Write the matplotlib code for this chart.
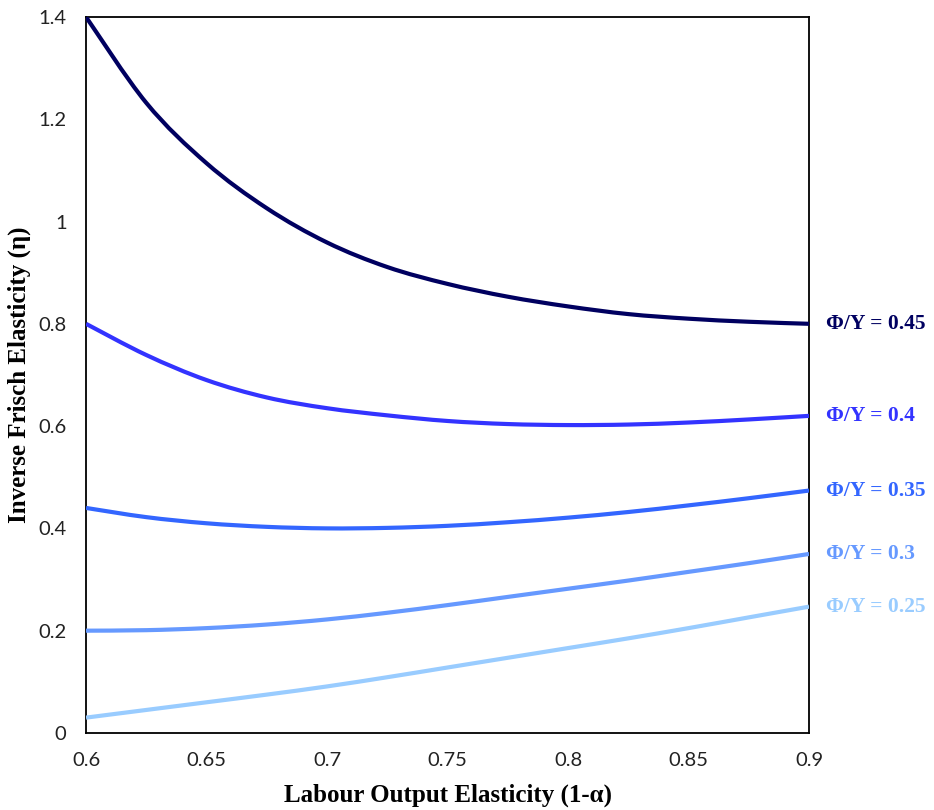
import numpy as np
import matplotlib
matplotlib.use("Agg")
from matplotlib import pyplot as plt
from matplotlib.path import Path
from matplotlib.patches import PathPatch


# labour output elasticity (1-alpha)
labour_share = [0.6, 0.625, 0.65, 0.675, 0.7, 0.725, 0.75, 0.775, 0.8, 0.825, 0.85, 0.875, 0.9]

# inverse Frisch elasticity for each fixed-cost share
eta_045 = [1.40, 1.232, 1.114, 1.026, 0.959, 0.911, 0.878, 0.853, 0.834, 0.819, 0.810, 0.804, 0.80]
eta_040 = [0.80, 0.739, 0.690, 0.656, 0.635, 0.621, 0.610, 0.604, 0.602, 0.603, 0.607, 0.613, 0.62]
eta_035 = [0.44, 0.422, 0.410, 0.403, 0.400, 0.401, 0.405, 0.412, 0.421, 0.432, 0.445, 0.459, 0.474]
eta_030 = [0.20, 0.201, 0.205, 0.212, 0.222, 0.235, 0.250, 0.266, 0.282, 0.298, 0.315, 0.332, 0.35]
eta_025 = [0.03, 0.045, 0.060, 0.075, 0.091, 0.109, 0.128, 0.147, 0.166, 0.185, 0.205, 0.226, 0.247]

labels = ["Φ/Y = 0.45", "Φ/Y = 0.4", "Φ/Y = 0.35", "Φ/Y = 0.3", "Φ/Y = 0.25"]
colors = ["#000060", "#3333ff", "#3366ff", "#6699ff", "#99ccff"]


def smooth_path(x, y):
    # catmull-rom through the points, handed to matplotlib as cubic beziers
    pts = np.column_stack([np.asarray(x, float), np.asarray(y, float)])
    verts = [pts[0]]
    codes = [Path.MOVETO]
    n = len(pts)
    for i in range(n - 1):
        p0 = pts[i - 1] if i > 0 else pts[i]
        p1 = pts[i]
        p2 = pts[i + 1]
        p3 = pts[i + 2] if i + 2 < n else pts[i + 1]
        c1 = p1 + (p2 - p0) / 6.0
        c2 = p2 - (p3 - p1) / 6.0
        verts += [c1, c2, p2]
        codes += [Path.CURVE4] * 3
    return Path(verts, codes)


def main():
    fig = plt.figure(figsize=(9.34, 8.1), dpi=100)
    ax = fig.add_axes([0.0921, 0.0951, 0.7741, 0.8840])

    series = [eta_045, eta_040, eta_035, eta_030, eta_025]
    for vals, col, lab in zip(series, colors, labels):
        patch = PathPatch(smooth_path(labour_share, vals), facecolor="none",
                          edgecolor=col, lw=3.0, capstyle="butt", zorder=3)
        ax.add_patch(patch)
        ax.annotate(lab, xy=(0.9, vals[-1]), xytext=(12, 0), textcoords="offset points",
                    color=col, fontsize=15.5, fontweight="bold", family="Liberation Serif",
                    va="center", ha="left", annotation_clip=False)

    ax.set_xlim(0.6, 0.9)
    ax.set_ylim(0, 1.4)
    ax.set_xticks([0.6, 0.65, 0.7, 0.75, 0.8, 0.85, 0.9])
    ax.set_xticklabels(["0.6", "0.65", "0.7", "0.75", "0.8", "0.85", "0.9"])
    ax.set_yticks([0, 0.2, 0.4, 0.6, 0.8, 1.0, 1.2, 1.4])
    ax.set_yticklabels(["0", "0.2", "0.4", "0.6", "0.8", "1", "1.2", "1.4"])
    ax.tick_params(axis="x", length=0, labelsize=14.5, pad=14)
    ax.tick_params(axis="y", length=0, labelsize=14.5, pad=14)
    for t in ax.get_xticklabels() + ax.get_yticklabels():
        t.set_family("Lato")
        t.set_color("#222222")

    for s in ax.spines.values():
        s.set_linewidth(1.3)
        s.set_color("black")

    ax.set_xlabel("Labour Output Elasticity (1-α)", fontsize=18, fontweight="bold",
                  family="Liberation Serif", labelpad=10)
    ax.set_ylabel("Inverse Frisch Elasticity (η)", fontsize=18, fontweight="bold",
                  family="Liberation Serif", labelpad=5)

    fig.savefig("out.png", dpi=100)


if __name__ == "__main__":
    main()
